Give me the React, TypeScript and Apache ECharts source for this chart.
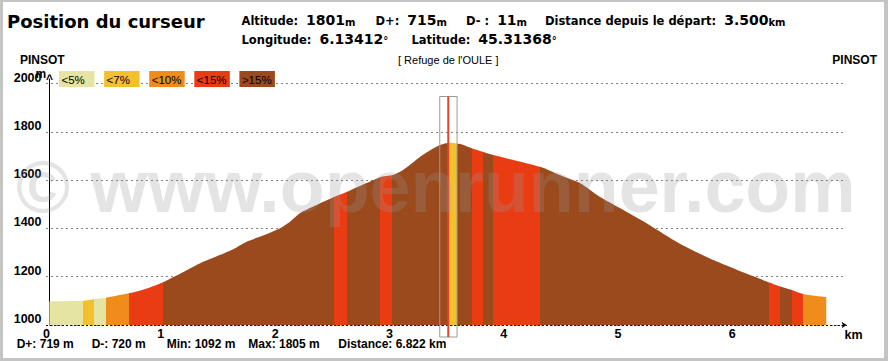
import { useEffect, useRef } from 'react';
import * as echarts from 'echarts';

// ---- data ----
const distanceKm = [0.025, 0.32, 0.42, 0.52, 0.72, 0.84, 1.02, 1.23, 1.34, 1.63, 1.75, 1.87, 2.04, 2.13, 2.22, 2.51, 2.63, 2.92, 3.03, 3.12, 3.27, 3.44, 3.53, 3.62, 3.72, 3.91, 4.32, 4.49, 4.67, 4.84, 5.02, 5.25, 5.51, 5.80, 6.10, 6.33, 6.42, 6.52, 6.62, 6.822];
const altitudeM = [1098, 1100, 1108, 1113, 1131, 1145, 1177, 1228, 1255, 1313, 1345, 1366, 1400, 1428, 1464, 1529, 1552, 1612, 1621, 1642, 1697, 1745, 1755, 1749, 1732, 1704, 1655, 1621, 1587, 1531, 1483, 1421, 1345, 1276, 1217, 1175, 1159, 1145, 1128, 1115];

// slope sections: start km and slope class (index into slopeLabels)
const slopeStartKm = [0, 0.317, 0.418, 0.521, 0.722, 1.022, 2.518, 2.626, 2.918, 3.025, 3.517, 3.594, 3.72, 3.822, 3.909, 4.318, 6.324, 6.417, 6.525, 6.616];
const slopeClass = [0, 1, 0, 2, 3, 4, 3, 4, 3, 4, 1, 4, 3, 4, 3, 4, 3, 4, 3, 2];
const slopeLabels = ['<5%', '<7%', '<10%', '<15%', '>15%'];
const slopeColors = ['#e6e4a2', '#f4c12e', '#f08c1a', '#e93c12', '#9b4a1d'];

const xMin = 0;
const xMax = 7;
const xStep = 1;
const yMin = 1000;
const yMax = 2000;
const yStep = 200;
const yUnit = 'm';
const xUnit = 'km';

const cursorKm = 3.515;
const startName = 'PINSOT';
const endName = 'PINSOT';
const poiName = "[ Refuge de l'OULE ]";
const statTexts = ['D+: 719 m', 'D-: 720 m', 'Min: 1092 m', 'Max: 1805 m', 'Distance: 6.822 km'];

const headerTitle = 'Position du curseur';
const headerLine1 = [
  { label: 'Altitude:', value: '1801', unit: 'm' },
  { label: 'D+:', value: '715', unit: 'm' },
  { label: 'D- :', value: '11', unit: 'm' },
  { label: 'Distance depuis le départ:', value: '3.500', unit: 'km' },
];
const headerLine2 = [
  { label: 'Longitude:', value: '6.13412', unit: '°' },
  { label: 'Latitude:', value: '45.31368', unit: '°' },
];
const watermark = '© www.openrunner.com';

const FONT = '"Liberation Sans", Arial, Helvetica, sans-serif';
const HFONT = '"DejaVu Sans", Verdana, sans-serif';

export default function App() {
  const ref = useRef<HTMLDivElement>(null);

  useEffect(() => {
    const el = ref.current;
    if (!el) return;
    const chart = echarts.init(el, null, { renderer: 'svg' });

    const pieces = slopeStartKm.map((s, i) => ({
      gte: i === 0 ? -10 : s,
      lt: i === slopeStartKm.length - 1 ? 100 : slopeStartKm[i + 1],
      color: slopeColors[slopeClass[i]],
    }));

    chart.setOption({
      animation: false,
      backgroundColor: '#ffffff',
      textStyle: { fontFamily: FONT },
      grid: { left: 46.5, right: 41.4, top: 83.5, bottom: 36, outerBoundsMode: 'none' },
      xAxis: {
        type: 'value',
        min: xMin,
        max: xMax,
        interval: xStep,
        name: xUnit,
        nameLocation: 'end',
        nameGap: 0,
        nameTextStyle: {
          color: '#000', fontWeight: 'bold', fontSize: 12.5, fontFamily: FONT,
          align: 'center', verticalAlign: 'top', padding: [3, 0, 0, 14],
        },
        axisLine: {
          show: true, onZero: false,
          symbol: ['none', 'arrow'], symbolSize: [5, 5],
          lineStyle: { color: '#000', type: [1, 3], width: 1 },
        },
        axisTick: { show: false },
        axisLabel: { color: '#000', fontWeight: 'bold', fontSize: 12.5, fontFamily: FONT, margin: 2, showMaxLabel: false },
        splitLine: { show: false },
      },
      yAxis: {
        type: 'value',
        min: yMin,
        max: yMax,
        interval: yStep,
        offset: -3,
        axisLine: { show: true, onZero: false, lineStyle: { color: '#000', width: 1 } },
        axisTick: { show: false },
        axisLabel: {
          color: '#000', fontWeight: 'bold', fontSize: 12.5, fontFamily: FONT,
          margin: 8, verticalAlign: 'bottom', lineHeight: 12,
          formatter: (v: number) => String(v),
        },
        splitLine: { show: true, lineStyle: { color: '#000', type: [1, 4], width: 1 } },
      },
      visualMap: {
        show: false,
        type: 'piecewise',
        dimension: 0,
        seriesIndex: 0,
        pieces,
      },
      series: [
        {
          type: 'line',
          data: distanceKm.map((d, i) => [d, altitudeM[i]]),
          showSymbol: false,
          symbol: 'none',
          smooth: 0.2,
          lineStyle: { width: 0 },
          areaStyle: { opacity: 1, origin: 'start' },
          z: 2,
        },
      ],
    });

    const cx = chart.convertToPixel({ xAxisIndex: 0 }, cursorKm) as number;
    const axisX = (chart.convertToPixel({ xAxisIndex: 0 }, xMin) as number) + 3;
    const yTop = chart.convertToPixel({ yAxisIndex: 0 }, yMax) as number;
    const yBot = chart.convertToPixel({ yAxisIndex: 0 }, yMin) as number;

    const rich = {
      l: { fontFamily: HFONT, fontSize: 11.5, fontWeight: 'bold', lineHeight: 11.5, verticalAlign: 'bottom', padding: [0, 8, 0, 0], fill: '#000' },
      v: { fontFamily: HFONT, fontSize: 14, fontWeight: 'bold', lineHeight: 14, verticalAlign: 'bottom', fill: '#000' },
      u: { fontFamily: HFONT, fontSize: 10, fontWeight: 'bold', lineHeight: 10, verticalAlign: 'bottom', fill: '#000' },
    };
    const line1X = [241.5, 375.5, 466, 545];
    const line2X = [241.5, 411.5];
    const headerEls: any[] = [];
    headerLine1.forEach((g, i) => {
      headerEls.push({
        type: 'text', x: line1X[i], y: 27.2, z: 60,
        style: { text: `{l|${g.label}}{v|${g.value}}{u|${g.unit}}`, rich, verticalAlign: 'bottom', align: 'left' },
      });
    });
    headerLine2.forEach((g, i) => {
      headerEls.push({
        type: 'text', x: line2X[i], y: 45.5, z: 60,
        style: { text: `{l|${g.label}}{v|${g.value}}{u|${g.unit}}`, rich, verticalAlign: 'bottom', align: 'left' },
      });
    });

    const legendEls: any[] = [];
    slopeLabels.forEach((lab, i) => {
      const left = 59 + i * 45.1;
      legendEls.push({
        type: 'rect', z: 40,
        shape: { x: left, y: 71, width: 35.5, height: 16 },
        style: { fill: slopeColors[i], stroke: null },
      });
      legendEls.push({
        type: 'text', z: 41, x: left + 2.5, y: 79.5,
        style: { text: lab, font: `11.5px ${FONT}`, fill: '#000', verticalAlign: 'middle', align: 'left' },
      });
    });

    const statX = [16.7, 91.7, 166.7, 248.3, 338.3];
    const statEls = statTexts.map((t, i) => ({
      type: 'text', z: 60, x: statX[i], y: 343.5,
      style: { text: t, font: `bold 12px ${FONT}`, fill: '#000', verticalAlign: 'middle', align: 'left' },
    }));

    chart.setOption({
      graphic: [
        {
          type: 'text', z: 60, x: 7, y: 21.5,
          style: { text: headerTitle, font: `bold 18px ${HFONT}`, fill: '#000', verticalAlign: 'middle', align: 'left' },
        },
        ...headerEls,
        {
          type: 'text', z: 60, x: 20, y: 60,
          style: { text: startName, font: `bold 12px ${FONT}`, fill: '#000', verticalAlign: 'middle', align: 'left' },
        },
        {
          type: 'text', z: 60, x: 877, y: 60,
          style: { text: endName, font: `bold 12px ${FONT}`, fill: '#000', verticalAlign: 'middle', align: 'right' },
        },
        {
          type: 'text', z: 60, x: cx, y: 60,
          style: { text: poiName, font: `11px ${FONT}`, fill: '#000', verticalAlign: 'middle', align: 'center' },
        },
        // y-axis unit and arrow head
        {
          type: 'line', z: 30,
          shape: { x1: axisX, y1: yTop + 0.5, x2: axisX, y2: yTop - 5 },
          style: { stroke: '#000', lineWidth: 1 },
        },
        {
          type: 'text', z: 61, x: 35.5, y: 73.5,
          style: { text: yUnit, font: `bold 12px ${FONT}`, fill: '#000', verticalAlign: 'middle', align: 'left' },
        },
        {
          type: 'text', z: 61, x: axisX, y: 78.5,
          style: { text: '^', font: `bold 12px ${FONT}`, fill: '#000', verticalAlign: 'middle', align: 'center' },
        },
        ...legendEls,
        ...statEls,
        {
          type: 'rect', z: 50,
          shape: { x: cx - 8.5, y: yTop + 13, width: 17.3, height: yBot - yTop - 1 },
          style: { fill: 'none', stroke: '#9a9a9a', lineWidth: 1 },
        },
        {
          type: 'line', z: 51,
          shape: { x1: cx, y1: yTop + 13, x2: cx, y2: yBot + 12 },
          style: { stroke: '#e2452c', lineWidth: 2 },
        },
        {
          type: 'text', z: 100, silent: true, x: 16, y: 186,
          style: { text: watermark, font: `bold 73.5px ${FONT}`, fill: 'rgba(150,150,150,0.26)', verticalAlign: 'middle', align: 'left' },
        },
      ],
    });

    return () => chart.dispose();
  }, []);

  return (
    <div style={{ position: 'fixed', left: 0, top: 0, width: 888, height: 361, background: '#fff' }}>
      <div ref={ref} style={{ position: 'absolute', left: 0, top: 0, width: 888, height: 361 }} />
      <div
        style={{
          position: 'absolute', left: 0, top: 0, width: 888, height: 361, boxSizing: 'border-box',
          borderStyle: 'solid', borderColor: '#c4c4c4', borderWidth: '2px 4px 3px 3px', pointerEvents: 'none',
        }}
      />
    </div>
  );
}
